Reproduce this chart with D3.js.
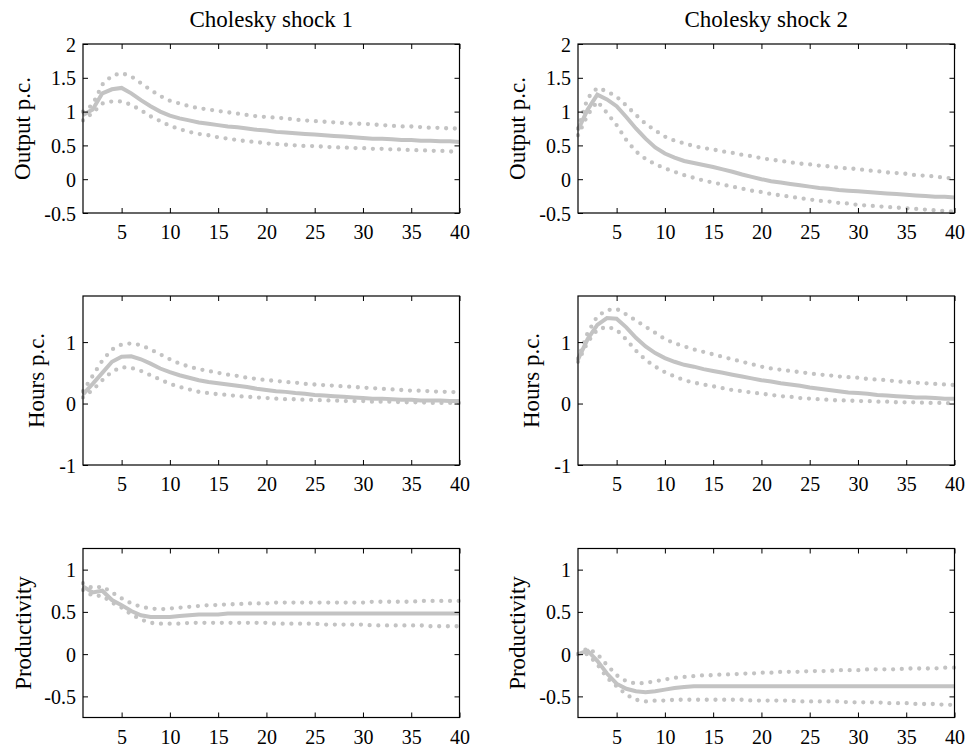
<!DOCTYPE html>
<html>
<head>
<meta charset="utf-8">
<script src="https://cdn.jsdelivr.net/npm/d3@7"></script>
<style>
  html, body { margin: 0; padding: 0; background: #fff; }
  svg { display: block; }
  svg text { font-family: "Liberation Serif", "Times New Roman", Times, "DejaVu Serif", serif !important; fill: #000; }
</style>
</head>
<body>
<svg id="chart" width="968" height="750"></svg>
<script>
// ---------------- DATA ----------------
const horizon = [1,2,3,4,5,6,7,8,9,10,11,12,13,14,15,16,17,18,19,20,21,22,23,24,25,26,27,28,29,30,31,32,33,34,35,36,37,38,39,40];
const columnTitles = ["Cholesky shock 1", "Cholesky shock 2"];
const rowLabels = ["Output p.c.", "Hours p.c.", "Productivity"];

// Output p.c., shock 1
const outS1Mid = [0.95,1.03,1.27,1.33,1.35,1.27,1.17,1.08,1.00,0.94,0.90,0.87,0.84,0.82,0.80,0.78,0.77,0.75,0.73,0.72,0.70,0.69,0.68,0.67,0.66,0.65,0.64,0.63,0.62,0.61,0.60,0.60,0.59,0.58,0.58,0.57,0.57,0.56,0.56,0.55];
const outS1Hi  = [1.00,1.10,1.40,1.53,1.57,1.52,1.42,1.32,1.23,1.16,1.12,1.08,1.05,1.03,1.01,0.99,0.97,0.95,0.93,0.92,0.91,0.90,0.88,0.87,0.86,0.85,0.84,0.83,0.82,0.82,0.81,0.80,0.79,0.78,0.78,0.77,0.76,0.76,0.75,0.75];
const outS1Lo  = [0.87,0.98,1.12,1.15,1.15,1.10,1.02,0.93,0.86,0.79,0.74,0.70,0.67,0.65,0.62,0.60,0.58,0.56,0.55,0.53,0.52,0.51,0.50,0.49,0.49,0.48,0.47,0.47,0.46,0.46,0.45,0.45,0.44,0.44,0.43,0.43,0.42,0.42,0.41,0.41];
// Output p.c., shock 2
const outS2Mid = [0.73,1.03,1.25,1.18,1.08,0.92,0.75,0.60,0.47,0.38,0.32,0.27,0.24,0.21,0.18,0.145,0.11,0.07,0.035,0.00,-0.03,-0.05,-0.07,-0.09,-0.11,-0.13,-0.14,-0.16,-0.17,-0.18,-0.19,-0.20,-0.21,-0.22,-0.23,-0.24,-0.25,-0.26,-0.26,-0.27];
const outS2Hi  = [0.75,1.20,1.35,1.30,1.22,1.09,0.95,0.82,0.72,0.63,0.57,0.53,0.49,0.46,0.44,0.41,0.39,0.36,0.34,0.31,0.29,0.27,0.25,0.23,0.22,0.20,0.19,0.17,0.16,0.15,0.13,0.12,0.10,0.09,0.08,0.06,0.05,0.04,0.02,0.01];
const outS2Lo  = [0.65,0.95,1.15,0.98,0.80,0.58,0.41,0.30,0.22,0.16,0.11,0.06,0.02,-0.02,-0.05,-0.08,-0.11,-0.14,-0.17,-0.19,-0.22,-0.24,-0.26,-0.28,-0.30,-0.32,-0.33,-0.35,-0.36,-0.38,-0.39,-0.40,-0.41,-0.42,-0.43,-0.44,-0.45,-0.46,-0.47,-0.48];
// Hours p.c., shock 1
const hrsS1Mid = [0.15,0.32,0.50,0.68,0.76,0.77,0.72,0.65,0.57,0.51,0.46,0.42,0.38,0.35,0.33,0.31,0.29,0.27,0.24,0.22,0.20,0.19,0.17,0.16,0.14,0.13,0.12,0.11,0.10,0.09,0.08,0.08,0.07,0.06,0.06,0.05,0.05,0.05,0.04,0.04];
const hrsS1Hi  = [0.20,0.45,0.70,0.88,0.96,0.98,0.95,0.88,0.80,0.72,0.65,0.60,0.56,0.53,0.50,0.47,0.45,0.42,0.40,0.38,0.37,0.35,0.34,0.32,0.31,0.30,0.29,0.28,0.27,0.26,0.25,0.24,0.23,0.22,0.21,0.21,0.20,0.19,0.19,0.18];
const hrsS1Lo  = [0.10,0.22,0.38,0.52,0.59,0.58,0.53,0.46,0.39,0.32,0.27,0.23,0.19,0.17,0.15,0.14,0.12,0.11,0.10,0.09,0.08,0.07,0.07,0.06,0.06,0.05,0.05,0.04,0.04,0.04,0.03,0.03,0.03,0.02,0.02,0.02,0.01,0.01,0.01,0.01];
// Hours p.c., shock 2
const hrsS2Mid = [0.72,1.05,1.28,1.39,1.38,1.24,1.07,0.93,0.82,0.74,0.68,0.63,0.60,0.56,0.53,0.50,0.47,0.44,0.41,0.38,0.36,0.33,0.31,0.29,0.26,0.24,0.22,0.20,0.18,0.17,0.16,0.14,0.13,0.12,0.11,0.10,0.10,0.09,0.08,0.08];
const hrsS2Hi  = [0.73,1.15,1.42,1.52,1.54,1.45,1.35,1.25,1.15,1.05,0.98,0.93,0.88,0.84,0.80,0.76,0.72,0.68,0.64,0.60,0.57,0.55,0.53,0.51,0.49,0.47,0.46,0.44,0.43,0.42,0.40,0.39,0.38,0.36,0.35,0.34,0.33,0.32,0.31,0.30];
const hrsS2Lo  = [0.68,1.00,1.20,1.25,1.20,1.04,0.86,0.71,0.60,0.51,0.44,0.38,0.34,0.31,0.28,0.25,0.22,0.20,0.18,0.16,0.14,0.12,0.11,0.09,0.08,0.07,0.06,0.05,0.05,0.04,0.04,0.03,0.03,0.02,0.02,0.02,0.01,0.01,0.01,0.00];
// Productivity, shock 1
const prdS1Mid = [0.80,0.73,0.75,0.64,0.58,0.51,0.46,0.44,0.44,0.44,0.45,0.46,0.47,0.47,0.47,0.48,0.48,0.48,0.48,0.48,0.48,0.48,0.48,0.48,0.48,0.48,0.48,0.48,0.48,0.48,0.48,0.48,0.48,0.48,0.48,0.48,0.48,0.48,0.48,0.48];
const prdS1Hi  = [0.84,0.78,0.80,0.73,0.66,0.60,0.56,0.54,0.53,0.54,0.55,0.56,0.57,0.58,0.58,0.59,0.59,0.60,0.60,0.60,0.61,0.61,0.61,0.61,0.61,0.61,0.61,0.61,0.61,0.61,0.62,0.62,0.62,0.62,0.62,0.63,0.63,0.63,0.63,0.63];
const prdS1Lo  = [0.76,0.69,0.69,0.61,0.55,0.47,0.41,0.37,0.36,0.36,0.36,0.37,0.37,0.37,0.37,0.37,0.37,0.37,0.37,0.37,0.36,0.36,0.36,0.36,0.36,0.35,0.35,0.35,0.35,0.35,0.34,0.34,0.34,0.34,0.34,0.34,0.33,0.33,0.33,0.33];
// Productivity, shock 2
const prdS2Mid = [0.00,0.04,-0.08,-0.23,-0.35,-0.41,-0.44,-0.45,-0.44,-0.42,-0.40,-0.39,-0.38,-0.38,-0.38,-0.38,-0.38,-0.38,-0.38,-0.38,-0.38,-0.38,-0.38,-0.38,-0.38,-0.38,-0.38,-0.38,-0.38,-0.38,-0.38,-0.38,-0.38,-0.38,-0.38,-0.38,-0.38,-0.38,-0.38,-0.38];
const prdS2Hi  = [0.00,0.07,0.00,-0.13,-0.25,-0.32,-0.35,-0.34,-0.32,-0.30,-0.28,-0.27,-0.26,-0.25,-0.25,-0.24,-0.24,-0.23,-0.23,-0.22,-0.22,-0.21,-0.21,-0.21,-0.20,-0.20,-0.20,-0.19,-0.19,-0.19,-0.18,-0.18,-0.18,-0.18,-0.17,-0.17,-0.17,-0.17,-0.16,-0.16];
const prdS2Lo  = [0.00,0.00,-0.12,-0.28,-0.38,-0.48,-0.54,-0.56,-0.55,-0.55,-0.54,-0.54,-0.54,-0.54,-0.54,-0.54,-0.54,-0.54,-0.55,-0.55,-0.55,-0.55,-0.55,-0.56,-0.56,-0.56,-0.56,-0.56,-0.57,-0.57,-0.57,-0.57,-0.58,-0.58,-0.58,-0.59,-0.59,-0.59,-0.60,-0.60];

const xTicks = [5,10,15,20,25,30,35,40];
const yDomains = [[-0.5, 2], [-1, 1.75], [-0.75, 1.25]];
const yTicks = [[-0.5, 0, 0.5, 1, 1.5, 2], [-1, 0, 1], [-0.5, 0, 0.5, 1]];
const yTickLabels = [["-0.5","0","0.5","1","1.5","2"], ["-1","0","1"], ["-0.5","0","0.5","1"]];

const panelData = [
  [[outS1Mid, outS1Hi, outS1Lo], [outS2Mid, outS2Hi, outS2Lo]],
  [[hrsS1Mid, hrsS1Hi, hrsS1Lo], [hrsS2Mid, hrsS2Hi, hrsS2Lo]],
  [[prdS1Mid, prdS1Hi, prdS1Lo], [prdS2Mid, prdS2Hi, prdS2Lo]]
];

// ---------------- LAYOUT ----------------
const colX = [83, 578];
const rowY = [44, 296, 548.5];
const W = 376.5, H = 169;
const labelX = [[30, 525], [44, 539], [31, 525]];
const lineColor = "#c3c3c3";
const serif = "'Liberation Serif', 'Times New Roman', Times, serif";

const svg = d3.select("#chart");

columnTitles.forEach((t, c) => {
  svg.append("text")
    .attr("x", colX[c] + W / 2).attr("y", 27)
    .attr("text-anchor", "middle")
    .attr("font-family", serif)
    .style("font-size", "23px")
    .text(t);
});

for (let r = 0; r < 3; r++) {
  for (let c = 0; c < 2; c++) {
    const g = svg.append("g").attr("transform", `translate(${colX[c]},${rowY[r]})`);
    const x = d3.scaleLinear().domain([1, 40]).range([0, W]);
    const y = d3.scaleLinear().domain(yDomains[r]).range([H, 0]);

    const clipId = `clip-${r}-${c}`;
    g.append("clipPath").attr("id", clipId)
      .append("rect").attr("x", -2).attr("y", -2).attr("width", W + 4).attr("height", H + 4);

    const line = d3.line().x((d, i) => x(horizon[i])).y(d => y(d));
    const [mid, hi, lo] = panelData[r][c];
    const lg = g.append("g").attr("clip-path", `url(#${clipId})`);
    [hi, lo].forEach(s => {
      lg.append("path").datum(s).attr("d", line)
        .attr("fill", "none").attr("stroke", lineColor)
        .attr("stroke-width", 4.3).attr("stroke-linecap", "round")
        .attr("stroke-dasharray", "0 8.7");
    });
    lg.append("path").datum(mid).attr("d", line)
      .attr("fill", "none").attr("stroke", lineColor)
      .attr("stroke-width", 4);

    const xb = d3.axisBottom(x).tickValues(xTicks).tickSize(-5).tickPadding(9).tickFormat(d3.format("d"));
    const xt = d3.axisTop(x).tickValues(xTicks).tickSize(-5).tickFormat("");
    const ticksY = yTicks[r], labs = yTickLabels[r];
    const yl = d3.axisLeft(y).tickValues(ticksY).tickSize(-5).tickPadding(7)
      .tickFormat((d, i) => labs[i]);
    const yr = d3.axisRight(y).tickValues(ticksY).tickSize(-5).tickFormat("");

    const ab = g.append("g").attr("transform", `translate(0,${H})`).call(xb);
    const at = g.append("g").call(xt);
    const al = g.append("g").call(yl);
    const ar = g.append("g").attr("transform", `translate(${W},0)`).call(yr);
    [ab, at, al, ar].forEach(a => {
      a.attr("font-family", serif).attr("font-size", 20);
      a.select(".domain").remove();
      a.selectAll("line").attr("stroke", "#000").attr("stroke-width", 1);
      a.selectAll("text").attr("font-family", serif).style("font-size", "20px").attr("fill", "#000");
    });
    ab.selectAll("text").attr("dy", "0.71em").attr("y", 12);
    al.selectAll("text").attr("dy", "0.35em");

    g.append("rect").attr("x", 0).attr("y", 0).attr("width", W).attr("height", H)
      .attr("fill", "none").attr("stroke", "#000").attr("stroke-width", 1.2);

    svg.append("text")
      .attr("transform", `translate(${labelX[r][c]},${rowY[r] + H / 2}) rotate(-90)`)
      .attr("text-anchor", "middle")
      .attr("font-family", serif)
      .style("font-size", "23px")
      .text(rowLabels[r]);
  }
}
</script>
</body>
</html>
